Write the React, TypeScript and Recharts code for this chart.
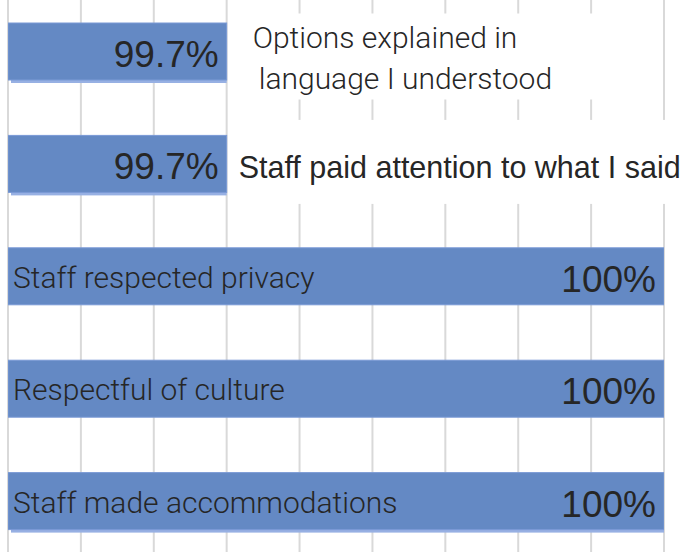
import React from 'react';
import { BarChart, Bar, XAxis, YAxis, CartesianGrid, LabelList } from 'recharts';

const categories = [
  'Options explained in\nlanguage I understood',
  'Staff paid attention to what I said',
  'Staff respected privacy',
  'Respectful of culture',
  'Staff made accommodations',
];
const values = [99.7, 99.7, 100, 100, 100];
const valueLabels = ['99.7%', '99.7%', '100%', '100%', '100%'];
const xTicks = [99.55, 99.6, 99.65, 99.7, 99.75, 99.8, 99.85, 99.9, 99.95, 100];

const data = categories.map((name, i) => ({ name, value: values[i], label: valueLabels[i] }));

const textColor = '#262626';
const nameFont = 'Roboto';
const valueFont = '"Liberation Sans", Arial, sans-serif';
const shadowed = new Set([0, 1, 4]);

const BarShape = (props: any) => {
  const { x, y, width, height, index } = props;
  return (
    <g>
      {shadowed.has(index) && (
        <rect x={x + 3} y={y + 3} width={width - 3} height={height} fill="#97b0e3" />
      )}
      <rect x={x} y={y} width={width} height={height} fill="#6489c4" stroke="#7b9ad6" strokeWidth={1} />
    </g>
  );
};

const BarLabels = (props: any) => {
  const { x, y, width, height, index } = props;
  const cy = y + height / 2;
  const end = x + width;
  const name = categories[index];
  const lines = name.split('\n');
  const inside = values[index] >= 100;

  return (
    <g>
      <text
        x={end - 8}
        y={cy + 3}
        textAnchor="end"
        dominantBaseline="central"
        fontFamily={valueFont}
        fontSize={37}
        fill={textColor}
      >
        {valueLabels[index]}
      </text>
      {inside ? (
        <text x={x + 5} y={cy + 1} dominantBaseline="central" fontFamily={nameFont} fontWeight={300} fontSize={30} fill={textColor}>
          {name}
        </text>
      ) : lines.length > 1 ? (
        <g>
          <rect x={end + 4} y={cy - 38} width={378} height={86} fill="#ffffff" />
          <text fontFamily={nameFont} fontWeight={300} fontSize={30} fill={textColor}>
            {lines.map((line, k) => (
              <tspan key={k} x={end + 26 + k * 6} y={cy - 4 + k * 41}>
                {line}
              </tspan>
            ))}
          </text>
        </g>
      ) : (
        <g>
          <rect x={end + 4} y={cy - 44} width={682 - end} height={84} fill="#ffffff" />
          <text x={end + 12} y={cy + 3} dominantBaseline="central" fontFamily={valueFont} fontSize={30.5} fill={textColor}>
            {name}
          </text>
        </g>
      )}
    </g>
  );
};

export default function App() {
  return (
    <div style={{ position: 'absolute', left: 0, top: 0, width: 682, height: 552, overflow: 'hidden', background: '#fff' }}>
      <div style={{ position: 'relative', top: -5 }}>
        <BarChart
          width={682}
          height={562}
          data={data}
          layout="vertical"
          margin={{ top: 0, right: 18, bottom: 0, left: 8 }}
        >
          <CartesianGrid horizontal={false} stroke="#d9d9d9" strokeWidth={2} />
          <XAxis
            type="number"
            domain={[99.55, 100]}
            ticks={xTicks}
            interval={0}
            allowDataOverflow
            tick={{ fontSize: 1, fill: 'transparent' }}
            tickLine={false}
            axisLine={false}
            height={0}
          />
          <YAxis type="category" dataKey="name" hide />
          <Bar dataKey="value" barSize={57} shape={BarShape} isAnimationActive={false}>
            <LabelList dataKey="label" content={BarLabels} />
          </Bar>
        </BarChart>
      </div>
    </div>
  );
}
